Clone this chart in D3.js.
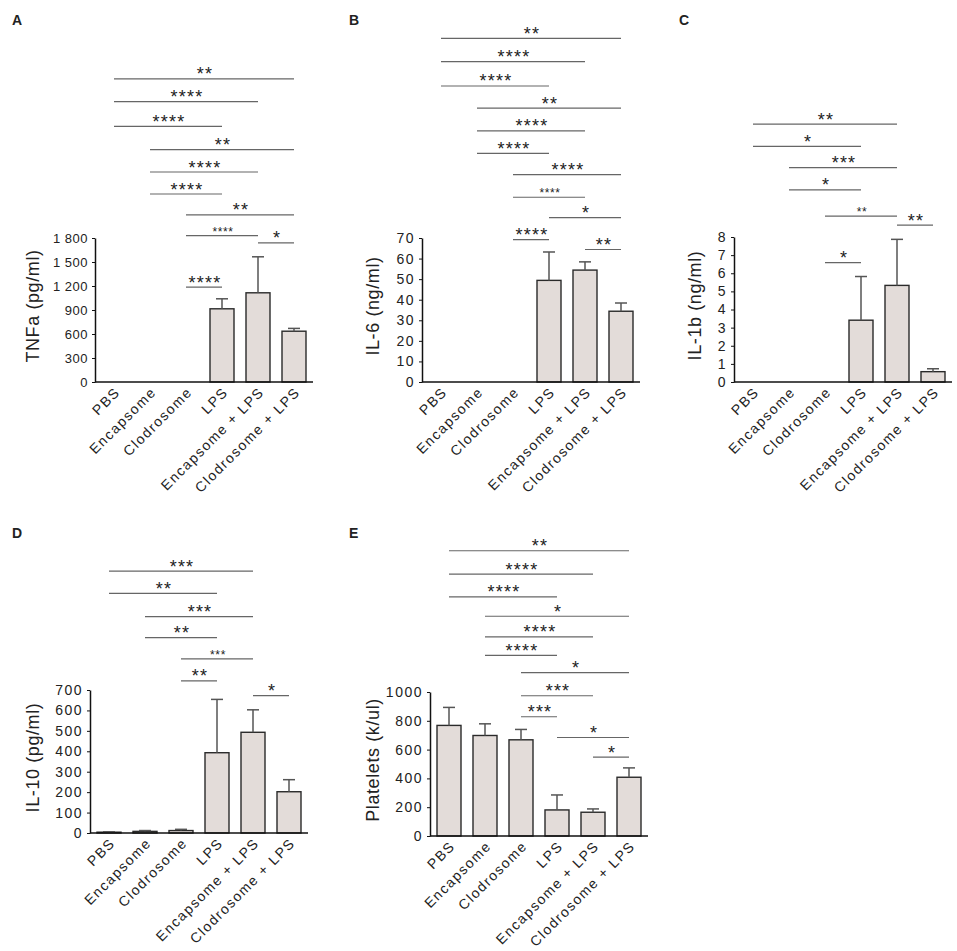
<!DOCTYPE html>
<html>
<head>
<meta charset="utf-8">
<script src="https://cdn.jsdelivr.net/npm/d3@7"></script>
<style>
  body { margin: 0; background: #fff; }
  svg text { font-family: "Liberation Sans", Arial, sans-serif; fill: #222; }
  .tick text { font-size: 14px; letter-spacing: 1.5px; }
  .tight .tick text { font-size: 13px; letter-spacing: 0.5px; }
  .cat { font-size: 14px; letter-spacing: 1.5px; }
  .ytitle { font-size: 18px; letter-spacing: 0.6px; }
  .letter { font-size: 14px; font-weight: bold; }
  .star { font-size: 18px; letter-spacing: 1.2px; }
  .star.small { font-size: 12px; letter-spacing: 0.6px; }
</style>
</head>
<body>
<svg id="chart" width="957" height="951"></svg>
<script>
// Groups on the x axis (same for every panel)
var categories = ["PBS", "Encapsome", "Clodrosome", "LPS", "Encapsome + LPS", "Clodrosome + LPS"];

// A - TNFa
var tnfaMean = [0, 0, 0, 915, 1115, 635];
var tnfaErr  = [0, 0, 0, 125, 450, 35];
var tnfaTicks = [0, 300, 600, 900, 1200, 1500, 1800];
var tnfaTickLabels = ["0", "300", "600", "900", "1 200", "1 500", "1 800"];
// [from, to, height in axis units, label]
var tnfaSig = [
    [0, 5, 3790, "**"], [0, 4, 3505, "****"], [0, 3, 3195, "****"],
    [1, 5, 2905, "**"], [1, 4, 2625, "****"], [1, 3, 2350, "****"],
    [2, 5, 2090, "**"], [2, 4, 1830, "****"], [4, 5, 1740, "*"],
    [2, 3, 1185, "****"]
];

// B - IL-6
var il6Mean = [0, 0, 0, 49.4, 54.4, 34.4];
var il6Err  = [0, 0, 0, 13.8, 4.0, 4.0];
var il6Ticks = [0, 10, 20, 30, 40, 50, 60, 70];
var il6TickLabels = ["0", "10", "20", "30", "40", "50", "60", "70"];
var il6Sig = [
    [0, 5, 167.0, "**"], [0, 4, 155.7, "****"], [0, 3, 143.9, "****"],
    [1, 5, 133.1, "**"], [1, 4, 122.1, "****"], [1, 3, 111.1, "****"],
    [2, 5, 100.8, "****"], [2, 4, 89.8, "****"], [3, 5, 79.9, "*"],
    [2, 3, 69.2, "****"], [4, 5, 64.4, "**"]
];

// C - IL-1b
var il1bMean = [0, 0, 0, 3.41, 5.33, 0.57];
var il1bErr  = [0, 0, 0, 2.41, 2.54, 0.16];
var il1bTicks = [0, 1, 2, 3, 4, 5, 6, 7, 8];
var il1bTickLabels = ["0", "1", "2", "3", "4", "5", "6", "7", "8"];
var il1bSig = [
    [0, 4, 14.23, "**"], [0, 3, 13.0, "*"],
    [1, 4, 11.83, "***"], [1, 3, 10.6, "*"],
    [2, 4, 9.15, "**"], [4, 5, 8.66, "**"], [2, 3, 6.59, "*"]
];

// D - IL-10
var il10Mean = [4, 8, 12, 393, 493, 202];
var il10Err  = [2, 4, 6, 261, 110, 59];
var il10Ticks = [0, 100, 200, 300, 400, 500, 600, 700];
var il10TickLabels = ["0", "100", "200", "300", "400", "500", "600", "700"];
var il10Sig = [
    [0, 4, 1282, "***"], [0, 3, 1173, "**"],
    [1, 4, 1059, "***"], [1, 3, 956, "**"],
    [2, 4, 852, "***"], [2, 3, 745, "**"], [4, 5, 672, "*"]
];

// E - Platelets
var pltMean = [768, 698, 668, 181, 165, 408];
var pltErr  = [125, 81, 72, 104, 23, 65];
var pltTicks = [0, 200, 400, 600, 800, 1000];
var pltTickLabels = ["0", "200", "400", "600", "800", "1000"];
var pltSig = [
    [0, 5, 1981, "**"], [0, 4, 1818, "****"], [0, 3, 1661, "****"],
    [1, 5, 1526, "*"], [1, 4, 1383, "****"], [1, 3, 1255, "****"],
    [2, 5, 1134, "*"], [2, 4, 974, "***"], [2, 3, 828, "***"],
    [3, 5, 684, "*"], [4, 5, 548, "*"]
];

// panel layout (pixels)
var panels = [
    { letter: "A", title: "TNFa (pg/ml)", mean: tnfaMean, err: tnfaErr, ticks: tnfaTicks, tickLabels: tnfaTickLabels,
      sig: tnfaSig, max: 1800, axisX: 95, bottom: 382, top: 238, titleX: 33, lx: 12, ly: 25, small: ["2-4"], tight: true },
    { letter: "B", title: "IL-6 (ng/ml)", mean: il6Mean, err: il6Err, ticks: il6Ticks, tickLabels: il6TickLabels,
      sig: il6Sig, max: 70, axisX: 422, bottom: 382, top: 238, titleX: 373, lx: 349, ly: 25, small: ["2-4"] },
    { letter: "C", title: "IL-1b (ng/ml)", mean: il1bMean, err: il1bErr, ticks: il1bTicks, tickLabels: il1bTickLabels,
      sig: il1bSig, max: 8, axisX: 734, bottom: 382, top: 237, titleX: 695, lx: 679, ly: 25, small: ["2-4"] },
    { letter: "D", title: "IL-10 (pg/ml)", mean: il10Mean, err: il10Err, ticks: il10Ticks, tickLabels: il10TickLabels,
      sig: il10Sig, max: 700, axisX: 90, bottom: 833, top: 690, titleX: 33, lx: 12, ly: 538, small: ["2-4"] },
    { letter: "E", title: "Platelets  (k/ul)", mean: pltMean, err: pltErr, ticks: pltTicks, tickLabels: pltTickLabels,
      sig: pltSig, max: 1000, axisX: 430, bottom: 836, top: 692, titleX: 373, lx: 349, ly: 538, small: [] }
];

var svg = d3.select("#chart");

function drawPanel(p) {
    var g = svg.append("g").classed("tight", !!p.tight);

    var x = d3.scaleBand()
        .domain(categories)
        .range([p.axisX + 1, p.axisX + 217])
        .paddingInner(1 / 3)
        .paddingOuter(1 / 6);

    var y = d3.scaleLinear()
        .domain([0, p.max])
        .range([p.bottom, p.top]);

    var rows = categories.map(function (c, i) {
        return { cat: c, mean: p.mean[i], err: p.err[i] };
    });

    // bars
    g.selectAll("rect.bar")
        .data(rows.filter(function (d) { return d.mean > 0; }))
        .enter().append("rect")
        .attr("class", "bar")
        .attr("x", function (d) { return x(d.cat); })
        .attr("y", function (d) { return y(d.mean); })
        .attr("width", x.bandwidth())
        .attr("height", function (d) { return y(0) - y(d.mean); })
        .attr("fill", "#e3dcd9")
        .attr("stroke", "#2a2a2a")
        .attr("stroke-width", 1.4);

    // error bars (upper only)
    var eb = g.selectAll("g.err")
        .data(rows.filter(function (d) { return d.err > 0; }))
        .enter().append("g")
        .attr("class", "err")
        .attr("stroke", "#555")
        .attr("stroke-width", 1.5);
    eb.append("line")
        .attr("x1", function (d) { return x(d.cat) + x.bandwidth() / 2; })
        .attr("x2", function (d) { return x(d.cat) + x.bandwidth() / 2; })
        .attr("y1", function (d) { return y(d.mean); })
        .attr("y2", function (d) { return y(d.mean + d.err); });
    eb.append("line")
        .attr("x1", function (d) { return x(d.cat) + x.bandwidth() / 2 - 6; })
        .attr("x2", function (d) { return x(d.cat) + x.bandwidth() / 2 + 6; })
        .attr("y1", function (d) { return y(d.mean + d.err); })
        .attr("y2", function (d) { return y(d.mean + d.err); });

    // y axis
    var yAxis = d3.axisLeft(y)
        .tickValues(p.ticks)
        .tickFormat(function (d, i) { return p.tickLabels[i]; })
        .tickSize(3)
        .tickSizeOuter(0)
        .tickPadding(4);
    var ya = g.append("g")
        .attr("transform", "translate(" + p.axisX + ",0)")
        .call(yAxis);
    ya.select(".domain").attr("stroke", "#111").attr("stroke-width", 1.5);
    ya.selectAll(".tick line").attr("stroke", "#111");
    ya.selectAll(".tick text").attr("font-family", null).attr("font-size", null);

    // x axis line
    g.append("line")
        .attr("x1", p.axisX)
        .attr("x2", p.axisX + 218)
        .attr("y1", p.bottom)
        .attr("y2", p.bottom)
        .attr("stroke", "#111")
        .attr("stroke-width", 1.5);

    // category labels
    g.selectAll("text.cat")
        .data(categories)
        .enter().append("text")
        .attr("class", "cat")
        .attr("text-anchor", "end")
        .attr("dy", "0.71em")
        .attr("transform", function (d) {
            return "translate(" + (x(d) + x.bandwidth() / 2) + "," + (p.bottom + 4) + ") rotate(-45)";
        })
        .text(function (d) { return d; });

    // y title
    g.append("text")
        .attr("class", "ytitle")
        .attr("text-anchor", "middle")
        .attr("transform", "translate(" + p.titleX + "," + ((p.bottom + p.top) / 2 - 4) + ") rotate(-90)")
        .attr("dy", "0.35em")
        .text(p.title);

    // panel letter
    g.append("text")
        .attr("class", "letter")
        .attr("x", p.lx)
        .attr("y", p.ly)
        .text(p.letter);

    // significance lines
    function cx(i) { return x(categories[i]) + x.bandwidth() / 2; }
    var sg = g.selectAll("g.sig")
        .data(p.sig)
        .enter().append("g")
        .attr("class", "sig");
    sg.append("line")
        .attr("x1", function (d) { return cx(d[0]); })
        .attr("x2", function (d) { return cx(d[1]); })
        .attr("y1", function (d) { return y(d[2]); })
        .attr("y2", function (d) { return y(d[2]); })
        .attr("stroke", "#666")
        .attr("stroke-width", 1.2);
    sg.append("text")
        .attr("class", function (d) {
            return p.small.indexOf(d[0] + "-" + d[1]) >= 0 ? "star small" : "star";
        })
        .attr("text-anchor", "middle")
        .attr("x", function (d) { return (cx(d[0]) + cx(d[1])) / 2 + 1; })
        .attr("y", function (d) {
            return y(d[2]) + (p.small.indexOf(d[0] + "-" + d[1]) >= 0 ? 0 : 1.5);
        })
        .text(function (d) { return d[3]; });
}

panels.forEach(drawPanel);
</script>
</body>
</html>
